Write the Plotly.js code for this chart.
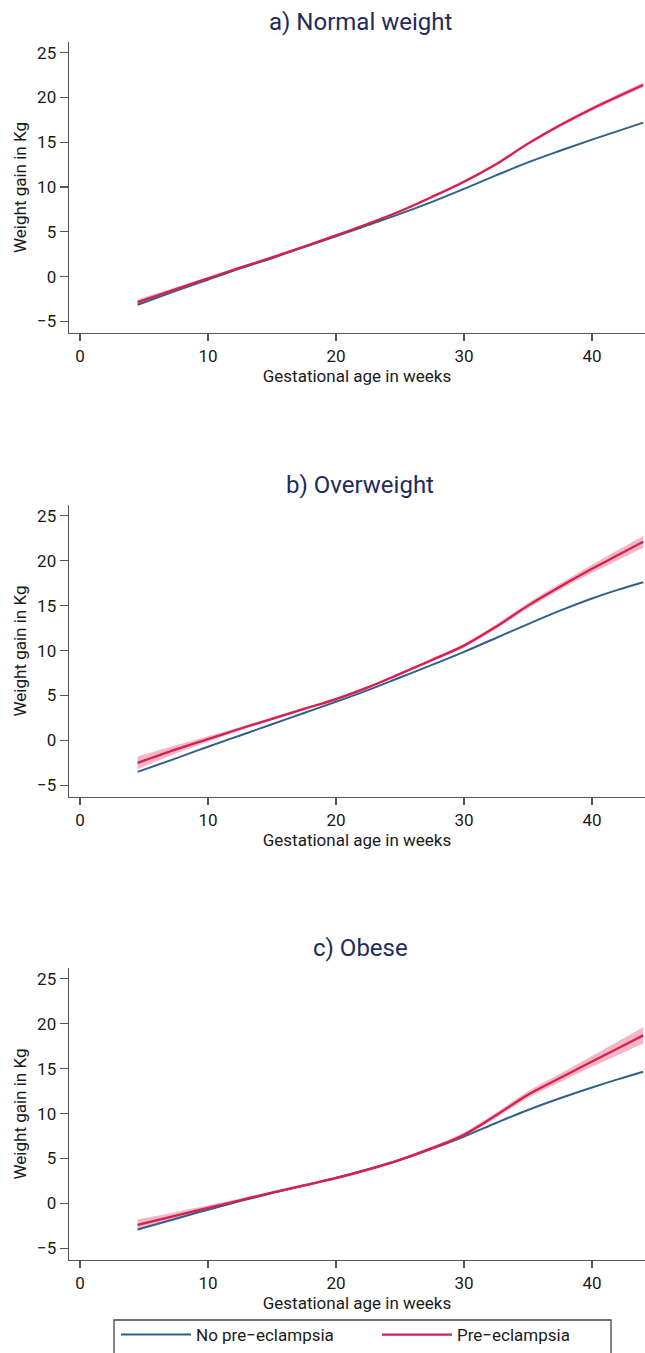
<!DOCTYPE html>
<html>
<head>
<meta charset="utf-8">
<script src="https://cdn.plot.ly/plotly-3.0.1.min.js"></script>
<style>html,body{margin:0;padding:0;background:#fff;}#chart{width:645px;height:1353px;}</style>
</head>
<body>
<div id="chart"></div>
<script>
// ---- Data ----
const panelTitles = ["a) Normal weight", "b) Overweight", "c) Obese"];
const seriesNames = ["No pre\u2212eclampsia", "Pre\u2212eclampsia"];
const weeks = [4.5, 7.5, 10, 12.5, 15, 17.5, 20, 22.5, 25, 27.5, 30, 32.5, 35, 37.5, 40, 42, 44];

// a) Normal weight
const normalNoPE = [-3.15, -1.6, -0.35, 0.9, 2.05, 3.3, 4.5, 5.75, 7.0, 8.35, 9.8, 11.3, 12.75, 14.05, 15.3, 16.25, 17.2];
const normalPE   = [-2.85, -1.4, -0.2, 1.0, 2.15, 3.35, 4.6, 5.9, 7.3, 8.9, 10.6, 12.55, 14.85, 16.9, 18.75, 20.1, 21.4];
const normalCI   = [0.3, 0.2, 0.15, 0.12, 0.1, 0.1, 0.1, 0.1, 0.1, 0.12, 0.15, 0.15, 0.18, 0.2, 0.22, 0.25, 0.28];

// b) Overweight
const overNoPE = [-3.5, -2.0, -0.7, 0.55, 1.8, 3.05, 4.3, 5.6, 7.0, 8.4, 9.85, 11.4, 12.95, 14.45, 15.8, 16.75, 17.6];
const overPE   = [-2.5, -1.0, 0.15, 1.3, 2.4, 3.5, 4.6, 5.9, 7.4, 8.95, 10.55, 12.65, 15.0, 17.1, 19.1, 20.6, 22.1];
const overCI   = [0.7, 0.45, 0.3, 0.2, 0.15, 0.15, 0.15, 0.15, 0.15, 0.18, 0.2, 0.25, 0.3, 0.35, 0.45, 0.55, 0.65];

// c) Obese
const obeseNoPE = [-2.9, -1.7, -0.7, 0.25, 1.15, 2.0, 2.85, 3.8, 4.85, 6.1, 7.45, 8.95, 10.4, 11.7, 12.9, 13.8, 14.65];
const obesePE   = [-2.4, -1.35, -0.5, 0.35, 1.2, 2.0, 2.8, 3.75, 4.85, 6.15, 7.65, 9.8, 12.1, 13.95, 15.8, 17.25, 18.7];
const obeseCI   = [0.6, 0.4, 0.3, 0.2, 0.15, 0.15, 0.15, 0.15, 0.15, 0.2, 0.25, 0.3, 0.37, 0.47, 0.6, 0.75, 0.9];

const xTicks = [0, 10, 20, 30, 40];
const yTicks = [-5, 0, 5, 10, 15, 20, 25];
const xTitle = "Gestational age in weeks";
const yTitle = "Weight gain in Kg";

// ---- Styling ----
const BLUE = "#31608c";
const RED = "#d81f4d";
const BAND = "rgba(216,31,77,0.32)";
const FONT = "Roboto, 'Liberation Sans', Arial, sans-serif";
const TXT = "#1a1a1a";
const TITLE_C = "#1e2b5c";
const AXIS_C = "#555";

const panels = [
  {no: normalNoPE, pe: normalPE, ci: normalCI},
  {no: overNoPE, pe: overPE, ci: overCI},
  {no: obeseNoPE, pe: obesePE, ci: obeseCI}
];

const W = 645, H = 1353, L = 69, R = 0;
const PW = W - L - R;
const plotTops = [42, 505, 968];
const plotBottoms = [333, 797, 1260];
const titleY = [22, 485, 948];

const traces = [];
const layout = {
  width: W, height: H,
  margin: {l: L, r: R, t: 0, b: 0},
  paper_bgcolor: "#fff", plot_bgcolor: "#fff",
  font: {family: FONT, color: TXT, size: 16},
  showlegend: true,
  legend: {
    orientation: "h", x: (116 - L) / PW, xanchor: "left", y: 0, yanchor: "bottom",
    borderwidth: 0, bgcolor: "rgba(0,0,0,0)",
    font: {family: FONT, size: 17, color: TXT},
    itemwidth: 70, entrywidth: 176, tracegroupgap: 0, traceorder: "normal"
  },
  annotations: [],
  shapes: [{
    type: "rect", xref: "paper", yref: "paper", layer: "below",
    x0: (114 - L) / PW, x1: (611 - L) / PW,
    y0: -0.01, y1: 1 - 1320 / H,
    line: {color: "#444", width: 1.3}, fillcolor: "rgba(0,0,0,0)"
  }]
};

panels.forEach((p, i) => {
  const xa = i === 0 ? "x" : "x" + (i + 1);
  const ya = i === 0 ? "y" : "y" + (i + 1);
  const lower = p.pe.map((v, k) => v - p.ci[k]);
  const upper = p.pe.map((v, k) => v + p.ci[k]);
  traces.push({x: weeks, y: lower, xaxis: xa, yaxis: ya, mode: "lines",
    line: {width: 0, shape: "spline", smoothing: 1}, showlegend: false, hoverinfo: "skip"});
  traces.push({x: weeks, y: upper, xaxis: xa, yaxis: ya, mode: "lines", fill: "tonexty",
    fillcolor: BAND, line: {width: 0, shape: "spline", smoothing: 1}, showlegend: false, hoverinfo: "skip"});
  traces.push({x: weeks, y: p.no, xaxis: xa, yaxis: ya, mode: "lines", name: seriesNames[0],
    line: {color: BLUE, width: 2, shape: "spline", smoothing: 1}, showlegend: i === 0});
  traces.push({x: weeks, y: p.pe, xaxis: xa, yaxis: ya, mode: "lines", name: seriesNames[1],
    line: {color: RED, width: 2.3, shape: "spline", smoothing: 1}, showlegend: i === 0});

  const dom = [1 - plotBottoms[i] / H, 1 - plotTops[i] / H];
  const xKey = i === 0 ? "xaxis" : "xaxis" + (i + 1);
  const yKey = i === 0 ? "yaxis" : "yaxis" + (i + 1);
  layout[xKey] = {
    domain: [0, 1], anchor: ya, range: [-0.86, 44.14],
    tickvals: xTicks, ticktext: xTicks.map(String),
    ticks: "outside", ticklen: 7, tickwidth: 1.3, tickcolor: AXIS_C,
    showline: true, linecolor: AXIS_C, linewidth: 1.4, showgrid: false, zeroline: false,
    tickfont: {family: FONT, size: 17, color: TXT},
    title: {text: xTitle, font: {family: FONT, size: 17, color: TXT}, standoff: 1},
    fixedrange: true
  };
  layout[yKey] = {
    domain: dom, anchor: xa, range: [-6.3, 26.2],
    tickvals: yTicks, ticktext: yTicks.map(v => v < 0 ? "\u2212" + Math.abs(v) : String(v)),
    ticks: "outside", ticklen: 8, tickwidth: 1.3, tickcolor: AXIS_C,
    showline: true, linecolor: AXIS_C, linewidth: 1.4, showgrid: false, zeroline: false,
    tickfont: {family: FONT, size: 17, color: TXT},
    title: {text: yTitle, font: {family: FONT, size: 17, color: TXT}, standoff: 6},
    fixedrange: true
  };
  layout.annotations.push({
    text: panelTitles[i], xref: "paper", yref: "paper",
    x: (360 - L) / PW, y: 1 - titleY[i] / H, xanchor: "center", yanchor: "middle",
    showarrow: false, font: {family: FONT, size: 24, color: TITLE_C}
  });
});

Plotly.newPlot("chart", traces, layout, {staticPlot: true, displayModeBar: false});
</script>
</body>
</html>
